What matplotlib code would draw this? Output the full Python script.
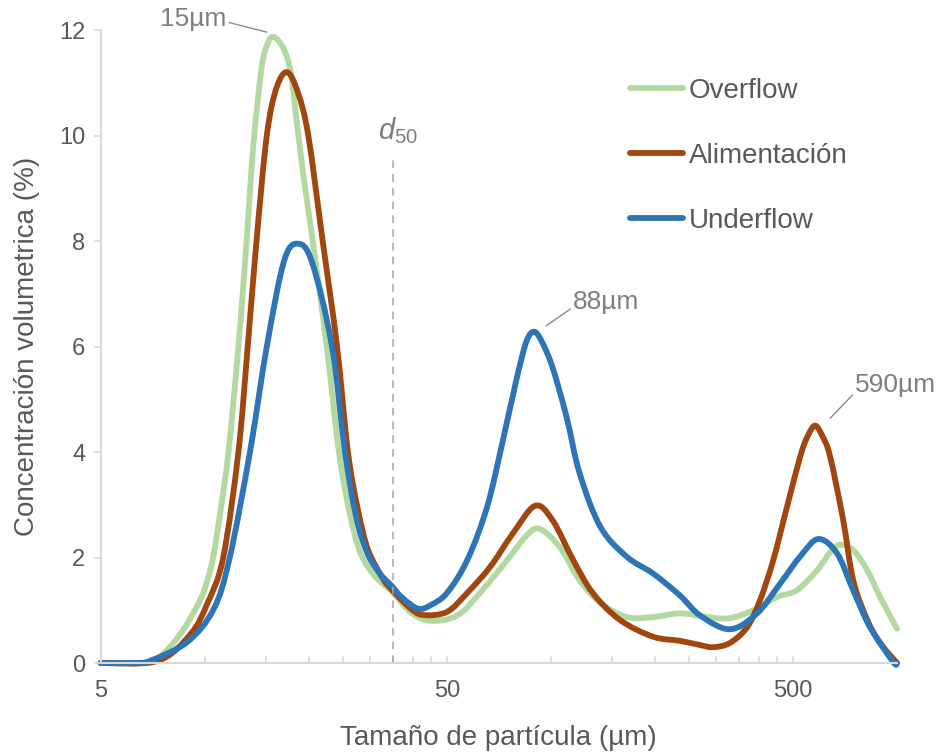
import matplotlib
matplotlib.use("Agg")
import matplotlib.pyplot as plt
import numpy as np
from matplotlib.path import Path
from matplotlib.patches import PathPatch
from matplotlib.lines import Line2D
from matplotlib.ticker import FixedLocator, FixedFormatter, NullFormatter

plt.rcParams['font.family'] = ['Liberation Sans', 'DejaVu Sans']
plt.rcParams['mathtext.fontset'] = 'custom'
plt.rcParams['mathtext.it'] = 'Liberation Sans:italic'
plt.rcParams['mathtext.rm'] = 'Liberation Sans'

# particle size distributions, size in um, concentration in %
over_x = [5, 6.7, 7.3, 8.5, 9.7, 10.2, 10.6, 11.1, 11.7, 12.5, 13.2, 13.8, 14.6, 15.2,
          15.7, 16.3, 17.0, 17.7, 18.4, 19.3, 20.5, 22.5, 24.4, 26.3, 28.1, 30.5, 32.7,
          34.8, 39.2, 44.7, 53.6, 62.4, 74.7, 85.4, 93, 106, 121, 139, 166, 197, 236,
          283, 329, 384, 450, 514, 588, 641, 685, 747, 820, 894, 1000]
over_y = [0, 0, 0.08, 0.55, 1.2, 1.6, 2.05, 2.9, 4.0, 6.0, 8.0, 9.8, 11.3, 11.75,
          11.87, 11.8, 11.6, 11.2, 10.3, 9.2, 8.0, 6.0, 4.0, 2.8, 2.1, 1.7, 1.5,
          1.35, 0.97, 0.8, 0.9, 1.33, 1.95, 2.43, 2.54, 2.2, 1.57, 1.14, 0.87, 0.87, 0.94,
          0.87, 0.85, 1.0, 1.25, 1.38, 1.76, 2.1, 2.24, 2.14, 1.76, 1.25, 0.65]

feed_x = [5, 7.3, 9.1, 10.2, 11.3, 12.5, 13.3, 14.1, 15.1, 16.1, 17.3, 18.6, 19.9, 21.9,
          24.1, 25.9, 27.7, 29.6, 32.7, 34.8, 39.2, 42.7, 50.1, 57.3, 66.7, 77.7, 90, 101,
          116, 132, 158, 197, 236, 270, 294, 329, 369, 402, 439, 481, 525, 550, 580,
          611, 641, 699, 747, 820, 894, 1000]
feed_y = [0, 0.04, 0.55, 1.15, 2.0, 4.0, 6.0, 8.0, 10.0, 10.9, 11.2, 10.8, 10.0, 8.0,
          6.0, 4.0, 2.9, 2.15, 1.6, 1.38, 1.04, 0.91, 0.97, 1.33, 1.82, 2.46, 2.98, 2.71,
          1.95, 1.33, 0.82, 0.5, 0.42, 0.34, 0.3, 0.38, 0.68, 1.19, 1.95, 2.96, 3.91, 4.28, 4.5,
          4.28, 3.91, 2.71, 1.57, 0.82, 0.38, 0]

under_x = [5, 6.3, 7.0, 8.9, 10.6, 11.8, 13.5, 15.1, 16.9, 18.5, 20.4, 23.3, 25.4, 27.3,
           29.4, 32, 34.8, 37, 41.3, 45, 50.1, 57.3, 65.4, 72.7, 79.8, 85, 89.4, 94, 101,
           111, 121, 139, 166, 197, 236, 270, 329, 394, 460, 525, 592, 671, 747, 836, 975, 1000]
under_y = [0, 0, 0.05, 0.4, 1.02, 2.0, 4.0, 6.0, 7.6, 7.95, 7.6, 6.0, 4.0, 2.8,
           2.1, 1.7, 1.45, 1.25, 1.03, 1.1, 1.33, 1.95, 2.96, 4.23, 5.42, 6.1, 6.28, 6.1, 5.61,
           4.66, 3.6, 2.58, 2.01, 1.7, 1.28, 0.9, 0.64, 0.94, 1.51, 2.02, 2.35, 2.08, 1.38, 0.68, 0.02, 0]

d50 = 35
labels = ['Overflow', 'Alimentación', 'Underflow']
colors = ['#B4D9A0', '#A0460E', '#2E75B6']

txt = '#595959'
spine = '#D9D9D9'


def smooth_path(xs, ys):
    # Excel style smoothed line: cubic bezier segments, built in log-x space
    lx = np.log10(xs)
    y = np.asarray(ys, dtype=float)
    n = len(lx)
    verts = [(lx[0], y[0])]
    codes = [Path.MOVETO]
    for i in range(n - 1):
        a = max(i - 1, 0)
        b = min(i + 2, n - 1)
        c1 = (lx[i] + (lx[i + 1] - lx[a]) / 6, y[i] + (y[i + 1] - y[a]) / 6)
        c2 = (lx[i + 1] - (lx[b] - lx[i]) / 6, y[i + 1] - (y[b] - y[i]) / 6)
        verts += [c1, c2, (lx[i + 1], y[i + 1])]
        codes += [Path.CURVE4] * 3
    verts = np.array(verts)
    verts[:, 0] = 10 ** verts[:, 0]
    return Path(verts, codes)


fig = plt.figure(figsize=(9.49, 7.56), dpi=100)
ax = fig.add_axes([0.1061, 0.123, 0.8391, 0.8373])

series = [(over_x, over_y), (feed_x, feed_y), (under_x, under_y)]
handles = []
for (xs, ys), lab, c in zip(series, labels, colors):
    ax.add_patch(PathPatch(smooth_path(xs, ys), fill=False, edgecolor=c, lw=4.2,
                           capstyle='round', joinstyle='round', clip_on=False))
    handles.append(Line2D([], [], color=c, lw=4.2, solid_capstyle='round', label=lab))

ax.set_xscale('log')
ax.set_xlim(5, 1000)
ax.set_ylim(0, 12)

ax.xaxis.set_major_locator(FixedLocator([5, 50, 500]))
ax.xaxis.set_major_formatter(FixedFormatter(['5', '50', '500']))
minors = [k * m for m in (5, 50) for k in range(2, 10)]
ax.xaxis.set_minor_locator(FixedLocator(minors))
ax.xaxis.set_minor_formatter(NullFormatter())
ax.set_yticks(range(0, 13, 2))

for s in ['top', 'right']:
    ax.spines[s].set_visible(False)
for s in ['left', 'bottom']:
    ax.spines[s].set_color(spine)
    ax.spines[s].set_linewidth(1.5)

ax.tick_params(axis='x', which='both', direction='in', length=5, width=1.2,
               color=spine, labelsize=17, labelcolor=txt, pad=12)
ax.tick_params(axis='y', direction='out', length=5, width=1.2,
               color=spine, labelsize=17, labelcolor=txt, pad=6)

ax.set_xlabel('Tamaño de partícula (µm)', fontsize=20, color=txt, labelpad=17)
ax.set_ylabel('Concentración volumetrica (%)', fontsize=20, color=txt, labelpad=14)

# d50 cut size
ax.plot([d50, d50], [0, 9.65], color='#A6A6A6', lw=1.1, ls=(0, (5, 4)))
ax.text(d50 * 1.03, 10.1, r'$d_{\mathit{50}}$', fontsize=21, color='#7F7F7F',
        ha='center', va='center')

# peak labels
ann = dict(fontsize=19, color='#7F7F7F', annotation_clip=False)
line = dict(arrowstyle='-', color='#8C8C8C', lw=1, shrinkA=0, shrinkB=0)
ax.annotate('15µm', xy=(15.1, 11.96), xytext=(9.25, 12.2), ha='center', va='center',
            arrowprops=dict(line, relpos=(1, 0.4)), **ann)
ax.annotate('88µm', xy=(96.8, 6.39), xytext=(116, 6.84), ha='left', va='center',
            arrowprops=dict(line, relpos=(0, 0.3)), **ann)
ax.annotate('590µm', xy=(641, 4.64), xytext=(757, 5.27), ha='left', va='center',
            arrowprops=dict(line, relpos=(0, 0.2)), **ann)

leg = ax.legend(handles=handles, loc='upper left', bbox_to_anchor=(0.664, 0.897),
                bbox_transform=fig.transFigure, frameon=False, fontsize=20,
                handlelength=1.9, handletextpad=0.2, labelspacing=1.4,
                borderpad=0, borderaxespad=0)
for t in leg.get_texts():
    t.set_color(txt)

fig.savefig('out.png', dpi=100)
